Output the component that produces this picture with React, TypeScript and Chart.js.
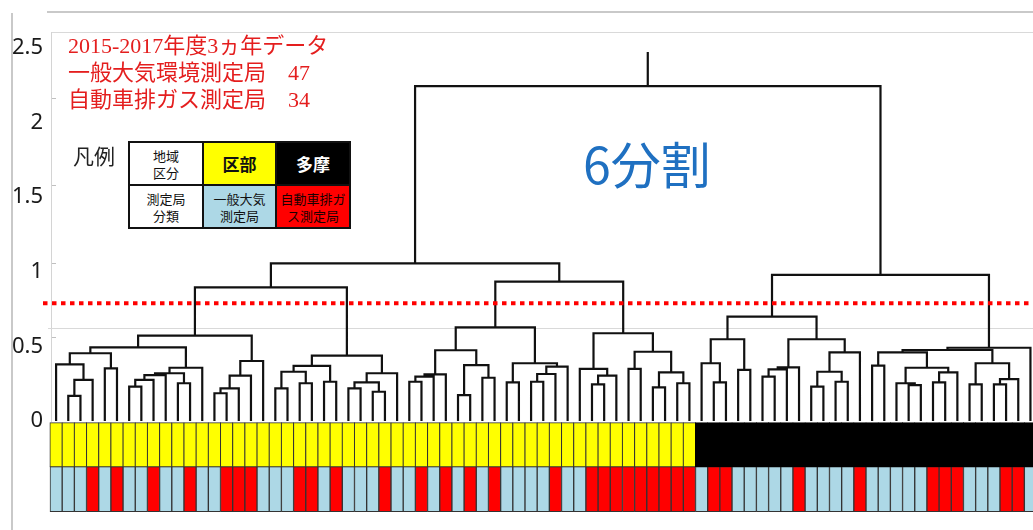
import React, { useEffect, useRef } from 'react';
import { Chart, registerables } from 'chart.js';

Chart.register(...registerables);

// ---------- DATA ----------
// Leaf order of the 81 monitoring stations (left to right)
// region: 0 = 区部, 1 = 多摩
const leafRegion: number[] = [
  0, 0, 0, 0, 0, 0, 0, 0, 0, 0,
  0, 0, 0, 0, 0, 0, 0, 0, 0, 0,
  0, 0, 0, 0, 0, 0, 0, 0, 0, 0,
  0, 0, 0, 0, 0, 0, 0, 0, 0, 0,
  0, 0, 0, 0, 0, 0, 0, 0, 0, 0,
  0, 0, 0, 1, 1, 1, 1, 1, 1, 1,
  1, 1, 1, 1, 1, 1, 1, 1, 1, 1,
  1, 1, 1, 1, 1, 1, 1, 1, 1, 1,
  1,
];
// station type: 0 = 一般大気測定局, 1 = 自動車排ガス測定局
const leafType: number[] = [
  0, 0, 0, 1, 0, 1, 0, 0, 1, 0,
  0, 1, 0, 0, 1, 1, 1, 0, 0, 0,
  1, 1, 0, 1, 0, 0, 0, 1, 0, 0,
  1, 0, 1, 0, 1, 0, 1, 0, 0, 0,
  0, 1, 0, 0, 1, 1, 1, 1, 1, 1,
  1, 1, 1, 0, 1, 1, 0, 0, 0, 0,
  0, 1, 0, 0, 0, 0, 1, 0, 0, 0,
  0, 0, 1, 1, 1, 0, 0, 0, 1, 1,
  0,
];

// Hierarchical merges: [childA, childB, height]
// ids 1..81 = leaves (in order), ids 100+k = result of merge k
const merges: [number, number, number][] = [
  [2, 3, 0.168],      // 100
  [100, 4, 0.275],    // 101
  [1, 101, 0.38],     // 102
  [5, 6, 0.353],      // 103
  [102, 103, 0.454],  // 104
  [7, 8, 0.23],       // 105
  [105, 9, 0.275],    // 106
  [106, 10, 0.308],   // 107
  [11, 12, 0.253],    // 108
  [107, 108, 0.32],   // 109
  [109, 13, 0.357],   // 110
  [104, 110, 0.494],  // 111
  [14, 15, 0.186],    // 112
  [112, 16, 0.219],   // 113
  [113, 17, 0.304],   // 114
  [114, 18, 0.402],   // 115
  [111, 115, 0.572],  // 116
  [19, 20, 0.219],    // 117
  [21, 22, 0.253],    // 118
  [117, 118, 0.33],   // 119
  [23, 24, 0.263],    // 120
  [119, 120, 0.369],  // 121
  [25, 26, 0.219],    // 122
  [27, 28, 0.196],    // 123
  [122, 123, 0.259],  // 124
  [124, 29, 0.32],    // 125
  [121, 125, 0.438],  // 126
  [116, 126, 0.896],  // 127
  [30, 31, 0.263],    // 128
  [128, 32, 0.297],   // 129
  [129, 33, 0.313],   // 130
  [34, 35, 0.174],    // 131
  [36, 37, 0.29],     // 132
  [131, 132, 0.375],  // 133
  [130, 133, 0.474],  // 134
  [38, 39, 0.259],    // 135
  [40, 41, 0.263],    // 136
  [136, 42, 0.315],   // 137
  [137, 43, 0.364],   // 138
  [135, 138, 0.387],  // 139
  [134, 139, 0.628],  // 140
  [45, 46, 0.246],    // 141
  [141, 47, 0.304],   // 142
  [44, 142, 0.349],   // 143
  [48, 49, 0.349],    // 144
  [50, 51, 0.226],    // 145
  [52, 53, 0.253],    // 146
  [145, 146, 0.326],  // 147
  [144, 147, 0.464],  // 148
  [143, 148, 0.588],  // 149
  [140, 149, 0.934],  // 150
  [127, 150, 1.057],  // 151
  [55, 56, 0.259],    // 152
  [54, 152, 0.387],   // 153
  [57, 58, 0.342],    // 154
  [153, 154, 0.548],  // 155
  [59, 60, 0.297],    // 156
  [156, 61, 0.346],   // 157
  [157, 62, 0.36],    // 158
  [63, 64, 0.23],     // 159
  [65, 66, 0.263],    // 160
  [159, 160, 0.33],   // 161
  [161, 67, 0.46],    // 162
  [158, 162, 0.548],  // 163
  [155, 163, 0.699],  // 164
  [68, 69, 0.371],    // 165
  [71, 72, 0.24],     // 166
  [70, 166, 0.253],   // 167
  [73, 74, 0.259],    // 168
  [168, 75, 0.326],   // 169
  [167, 169, 0.357],  // 170
  [165, 170, 0.46],   // 171
  [76, 77, 0.246],    // 172
  [78, 79, 0.246],    // 173
  [173, 80, 0.281],   // 174
  [172, 174, 0.387],  // 175
  [171, 175, 0.476],  // 176
  [176, 81, 0.491],   // 177
  [164, 177, 0.979],  // 178
  [151, 178, 2.245],  // 179
];
const rootTop = 2.473;
const cutHeight = 0.79;

const yTickValues: number[] = [0, 0.5, 1, 1.5, 2, 2.5];
const regionBand: [number, number] = [-0.306, -0.012];
const typeBand: [number, number] = [-0.608, -0.306];

const regionNames: string[] = ['区部', '多摩'];
const typeNames: string[] = ['一般大気\n測定局', '自動車排ガ\nス測定局'];
const legendRowTitles: string[] = ['地域\n区分', '測定局\n分類'];
const noteLines: string[] = [
  '2015-2017年度3ヵ年データ',
  '一般大気環境測定局　47',
  '自動車排ガス測定局　34',
];
const clusterLabel = '6分割';

// ---------- STYLE ----------
const regionColors = ['#FFFF00', '#000000'];
const regionBorders = ['#333333', '#000000'];
const typeColors = ['#ADD8E6', '#FF0000'];
const cjk = "'Noto Sans CJK JP', 'Noto Sans', sans-serif";

const xMin = -0.575;
const xMax = 80.71;
const yMin = -0.7306;
const yMax = 2.8217;

function buildDendrogram() {
  const nodes: { x: number; h: number }[] = [];
  const nx = (id: number) => (id >= 100 ? nodes[id - 100].x : id - 0.5);
  const nh = (id: number) => (id >= 100 ? nodes[id - 100].h : 0);
  const pts: { x: number; y: number | null }[] = [];
  merges.forEach(([a, b, h]) => {
    const xa = nx(a);
    const xb = nx(b);
    pts.push({ x: xa, y: nh(a) }, { x: xa, y: h }, { x: xb, y: h }, { x: xb, y: nh(b) }, { x: xb, y: null });
    nodes.push({ x: (xa + xb) / 2, h });
  });
  const root = nodes[nodes.length - 1];
  pts.push({ x: root.x, y: root.h }, { x: root.x, y: rootTop });
  return pts;
}

const frameLines = [
  { left: 47, top: 11, width: 986, height: 2, color: '#c9c9c9' },
  { left: 52, top: 32, width: 981, height: 1, color: '#d9d9d9' },
  { left: 11, top: 13, width: 2, height: 517, color: '#c9c9c9' },
  { left: 51, top: 32, width: 1, height: 390, color: '#d4d4d4' },
  { left: 48, top: 328, width: 985, height: 1, color: '#d9d9d9' },
  { left: 52, top: 98, width: 4, height: 1, color: '#c0c0c0' },
  { left: 52, top: 185, width: 4, height: 1, color: '#c0c0c0' },
  { left: 52, top: 263, width: 4, height: 1, color: '#c0c0c0' },
  { left: 52, top: 337, width: 4, height: 1, color: '#c0c0c0' },
];

export default function App() {
  const ref = useRef<HTMLCanvasElement>(null);

  useEffect(() => {
    if (!ref.current) return;
    const dendro = buildDendrogram();
    const chart = new Chart(ref.current, {
      type: 'bar',
      data: {
        datasets: [
          {
            type: 'line',
            label: 'cut',
            data: [
              { x: xMin, y: cutHeight },
              { x: xMax, y: cutHeight },
            ],
            borderColor: '#FF0000',
            borderWidth: 4,
            borderDash: [4.5, 4.5],
            borderCapStyle: 'butt',
            pointRadius: 0,
            fill: false,
          } as any,
          {
            type: 'line',
            label: 'dendrogram',
            data: dendro,
            borderColor: '#111111',
            borderWidth: 2.2,
            pointRadius: 0,
            spanGaps: false,
            tension: 0,
            fill: false,
            borderJoinStyle: 'miter',
          } as any,
          {
            type: 'bar',
            label: '地域区分',
            data: leafRegion.map((r, i) => ({ x: i + 0.5, y: regionBand })),
            backgroundColor: leafRegion.map((r) => regionColors[r]),
            borderColor: leafRegion.map((r) => regionBorders[r]),
            borderWidth: 1,
            borderSkipped: false,
            inflateAmount: 0.5,
            grouped: false,
            barPercentage: 1,
            categoryPercentage: 1,
          } as any,
          {
            type: 'bar',
            label: '測定局分類',
            data: leafType.map((t, i) => ({ x: i + 0.5, y: typeBand })),
            backgroundColor: leafType.map((t) => typeColors[t]),
            borderColor: '#333333',
            borderWidth: 1,
            borderSkipped: false,
            grouped: false,
            barPercentage: 1,
            categoryPercentage: 1,
          } as any,
        ],
      },
      options: {
        responsive: false,
        animation: false,
        events: [],
        layout: { padding: 0 },
        plugins: { legend: { display: false }, tooltip: { enabled: false }, title: { display: false } },
        scales: {
          x: {
            type: 'linear',
            min: xMin,
            max: xMax,
            offset: false,
            display: false,
            grid: { display: false },
            afterBuildTicks: (s: any) => {
              s.ticks = [{ value: 0 }];
            },
          },
          y: {
            type: 'linear',
            position: 'left',
            min: yMin,
            max: yMax,
            grid: { display: false, drawTicks: false },
            border: { display: false },
            ticks: {
              padding: 0,
              color: '#1a1a1a',
              font: { family: "'Noto Sans', sans-serif", size: 22 },
              callback: (v: any) => String(v),
            },
            afterBuildTicks: (s: any) => {
              s.ticks = yTickValues.map((v) => ({ value: v }));
            },
            afterFit: (s: any) => {
              s.width = 43;
              s.paddingTop = 0;
              s.paddingBottom = 0;
            },
          },
        },
      } as any,
    });
    return () => chart.destroy();
  }, []);

  const cell: React.CSSProperties = {
    display: 'flex',
    alignItems: 'center',
    justifyContent: 'center',
    textAlign: 'center',
    fontFamily: cjk,
    fontSize: 13,
    lineHeight: '17px',
    whiteSpace: 'pre-line',
    color: '#111',
  };

  return (
    <div style={{ position: 'absolute', left: 0, top: 0, width: 1033, height: 530, background: '#fff', overflow: 'hidden' }}>
      {frameLines.map((l, i) => (
        <div
          key={i}
          style={{ position: 'absolute', left: l.left, top: l.top, width: l.width, height: l.height, background: l.color, zIndex: 0 }}
        />
      ))}
      <canvas ref={ref} width={1033} height={530} style={{ position: 'absolute', left: 0, top: 0, zIndex: 1 }} />

      <div
        style={{
          position: 'absolute',
          left: 68,
          top: 32,
          zIndex: 2,
          color: '#E41E1E',
          fontFamily: "'Liberation Serif', 'Noto Sans CJK JP', serif",
          fontSize: 22,
          lineHeight: '27px',
          whiteSpace: 'pre',
        }}
      >
        {noteLines.map((t, i) => (
          <div key={i}>{t}</div>
        ))}
      </div>

      <div
        style={{
          position: 'absolute',
          left: 73,
          top: 143,
          zIndex: 2,
          fontFamily: cjk,
          fontSize: 21,
          lineHeight: '25px',
          color: '#222',
        }}
      >
        凡例
      </div>

      <div
        style={{
          position: 'absolute',
          left: 128,
          top: 141,
          zIndex: 2,
          background: '#111',
          padding: 2,
          display: 'grid',
          gridTemplateColumns: '72px 71px 72px',
          gridTemplateRows: '41px 41px',
          gap: 2,
        }}
      >
        <div style={{ ...cell, background: '#fff' }}>{legendRowTitles[0]}</div>
        <div style={{ ...cell, background: regionColors[0], fontSize: 17, fontWeight: 700 }}>{regionNames[0]}</div>
        <div style={{ ...cell, background: regionColors[1], color: '#fff', fontSize: 17, fontWeight: 700 }}>{regionNames[1]}</div>
        <div style={{ ...cell, background: '#fff' }}>{legendRowTitles[1]}</div>
        <div style={{ ...cell, background: typeColors[0] }}>{typeNames[0]}</div>
        <div style={{ ...cell, background: typeColors[1], color: '#1a0000' }}>{typeNames[1]}</div>
      </div>

      <div
        style={{
          position: 'absolute',
          left: 583,
          top: 137,
          zIndex: 2,
          fontFamily: cjk,
          fontSize: 50,
          lineHeight: '50px',
          color: '#1F70C1',
          whiteSpace: 'pre',
        }}
      >
        {clusterLabel}
      </div>
    </div>
  );
}
